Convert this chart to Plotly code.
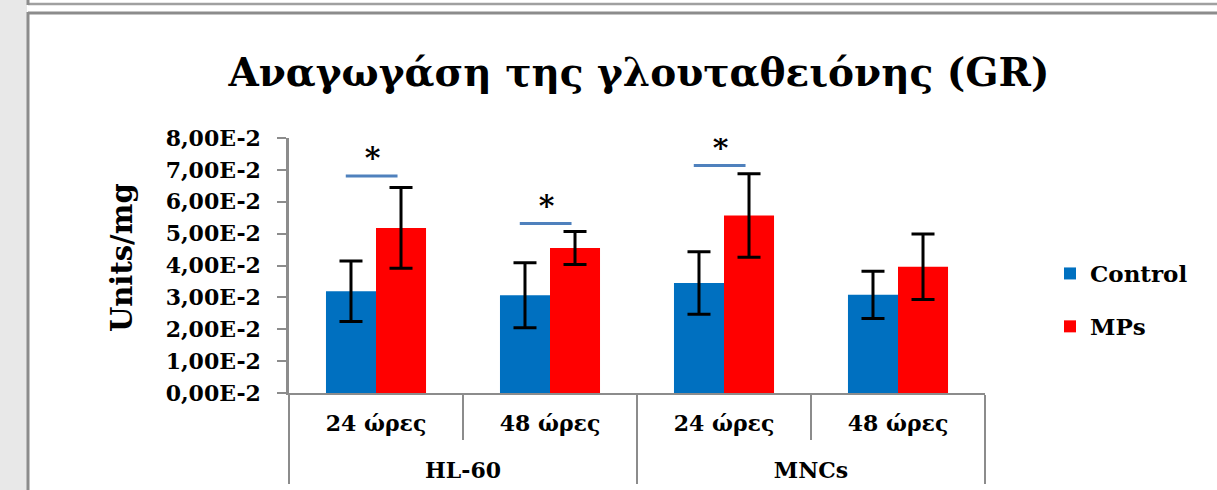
import plotly.graph_objects as go

cell_lines = ["HL-60", "HL-60", "MNCs", "MNCs"]
times = ["24 ώρες", "48 ώρες", "24 ώρες", "48 ώρες"]
control = [0.0319, 0.0307, 0.0345, 0.0308]
control_err = [0.0095, 0.0102, 0.0098, 0.0074]
mps = [0.0518, 0.0455, 0.0557, 0.0396]
mps_err = [0.0127, 0.0052, 0.0131, 0.0103]
sig_idx = [0, 1, 2]
sig_y = [0.0681, 0.0532, 0.0714]
y_ticks = [0, 0.01, 0.02, 0.03, 0.04, 0.05, 0.06, 0.07, 0.08]
y_ticktext = ["0,00E-2", "1,00E-2", "2,00E-2", "3,00E-2", "4,00E-2",
              "5,00E-2", "6,00E-2", "7,00E-2", "8,00E-2"]

FONT = "DejaVu Serif"
GRAY = "#8c8c8c"
BARGAP = 0.425

# spacer line above the outer category labels to push them to a lower row
outer_labels = ["<span style='font-size:6px'> </span><br>" + c for c in cell_lines]

fig = go.Figure()
fig.add_trace(go.Bar(
    name="Control", x=[outer_labels, times], y=control,
    marker=dict(color="#0070C0", line=dict(width=0)),
    error_y=dict(type="data", array=control_err, color="black", thickness=3, width=11.5),
    legendgroup="a",
))
fig.add_trace(go.Bar(
    name="MPs", x=[outer_labels, times], y=mps,
    marker=dict(color="#FF0000", line=dict(width=0)),
    error_y=dict(type="data", array=mps_err, color="black", thickness=3, width=11.5),
    legendgroup="b",
))

off = (1 - BARGAP) / 4
for i, yv in zip(sig_idx, sig_y):
    fig.add_trace(go.Scatter(
        x=[i - off - 0.03, i + off - 0.02], y=[yv, yv], xaxis="x2", yaxis="y",
        mode="lines", line=dict(color="#4F81BD", width=3),
        showlegend=False, hoverinfo="skip",
    ))
    fig.add_trace(go.Scatter(
        x=[i - 0.02], y=[yv], xaxis="x2", yaxis="y",
        mode="text", text=["*"], textposition="top center",
        textfont=dict(family=FONT, size=30, color="black"),
        showlegend=False, hoverinfo="skip",
    ))

W, H = 696.0, 255.0
def px(x):
    return (x - 289) / W
def py(y):
    return (393 - y) / H

shapes = [
    dict(type="rect", xref="paper", yref="paper", x0=px(0), x1=px(27), y0=py(490), y1=py(0),
         fillcolor="#e8e8e8", line=dict(width=0), layer="below"),
    dict(type="line", xref="paper", yref="paper", x0=px(28), x1=px(1217), y0=py(4), y1=py(4),
         line=dict(color="#a0a0a0", width=2.5)),
    dict(type="line", xref="paper", yref="paper", x0=px(28), x1=px(28), y0=py(0), y1=py(5),
         line=dict(color="#8c8c8c", width=3)),
    dict(type="line", xref="paper", yref="paper", x0=px(28), x1=px(1217), y0=py(13), y1=py(13),
         line=dict(color="#8c8c8c", width=3)),
    dict(type="line", xref="paper", yref="paper", x0=px(28), x1=px(28), y0=py(12), y1=py(490),
         line=dict(color="#8c8c8c", width=3)),
]

fig.update_layout(
    width=1217, height=490,
    margin=dict(l=289, r=232, t=138, b=97, autoexpand=False),
    paper_bgcolor="white", plot_bgcolor="white",
    barmode="group", bargap=BARGAP, bargroupgap=0,
    font=dict(family=FONT, color="black", weight="bold"),
    title=dict(text="Αναγωγάση της γλουταθειόνης (GR)", xref="container", x=639 / 1217,
               xanchor="center", y=1 - 72 / 490, yanchor="middle",
               font=dict(family=FONT, size=39, color="black", weight="bold")),
    xaxis=dict(
        type="multicategory", showline=True, linecolor=GRAY, linewidth=2,
        ticks="outside", tickson="boundaries", ticklen=45, tickcolor=GRAY, tickwidth=2,
        ticklabelstandoff=10, automargin=False,
        showdividers=True, dividercolor=GRAY, dividerwidth=2,
        tickfont=dict(family=FONT, size=22, color="black", weight="bold"),
        showgrid=False,
    ),
    xaxis2=dict(overlaying="x", range=[-0.5, 3.5], visible=False),
    yaxis=dict(
        range=[0, 0.08], tickvals=y_ticks, ticktext=y_ticktext,
        showline=True, linecolor=GRAY, linewidth=2.5,
        ticks="outside", ticklen=9, tickcolor=GRAY, tickwidth=2,
        ticklabelstandoff=12, automargin=False,
        tickfont=dict(family=FONT, size=22, color="black", weight="bold"),
        showgrid=False, zeroline=False,
    ),
    legend=dict(x=px(1050), xanchor="left", y=py(300), yanchor="middle",
                font=dict(family=FONT, size=23, color="black", weight="bold"),
                traceorder="grouped", tracegroupgap=20, bgcolor="rgba(0,0,0,0)"),
    annotations=[dict(text="Units/mg", xref="paper", yref="paper", x=px(122), y=py(258),
                      xanchor="center", yanchor="middle", textangle=-90, showarrow=False,
                      font=dict(family=FONT, size=29, color="black", weight="bold"))],
    shapes=shapes,
)

fig.write_html("out.html")
